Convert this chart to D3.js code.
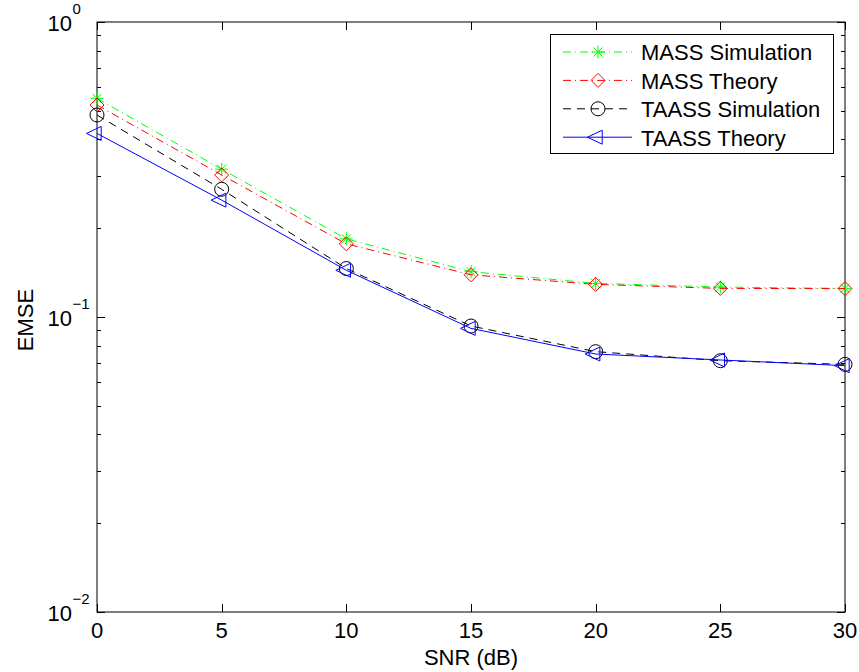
<!DOCTYPE html>
<html>
<head>
<meta charset="utf-8">
<script src="https://cdn.jsdelivr.net/npm/d3@7"></script>
<style>
  body { margin: 0; background: #fff; }
  text { font-family: "Liberation Sans", Arial, sans-serif; }
</style>
</head>
<body>
<div id="chart"></div>
<script>
// 数据
const snr = [0, 5, 10, 15, 20, 25, 30];
const massSim = [0.551, 0.317, 0.184, 0.1424, 0.130, 0.1263, 0.125];
const massTheory = [0.523, 0.303, 0.177, 0.139, 0.129, 0.125, 0.1248];
const taassSim = [0.484, 0.271, 0.146, 0.0932, 0.0763, 0.0711, 0.0691];
const taassTheory = [0.419, 0.249, 0.144, 0.0915, 0.0749, 0.0715, 0.0684];
const seriesNames = ['MASS Simulation', 'MASS Theory', 'TAASS Simulation', 'TAASS Theory'];
const xTicks = [0, 5, 10, 15, 20, 25, 30];
const yDecades = [-2, -1, 0];

const W = 859, H = 672;
const pLeft = 97, pRight = 845, pTop = 22, pBottom = 612;
const FS = 22;

const svg = d3.select('#chart').append('svg').attr('width', W).attr('height', H);

const x = d3.scaleLinear().domain([0, 30]).range([pLeft, pRight]);
const y = d3.scaleLog().domain([0.01, 1]).range([pBottom, pTop]);

const styles = [
  { color: '#00ff00', dash: '8,4,1,4', marker: 'star' },
  { color: '#ff0000', dash: '8,4,1,4', marker: 'diamond' },
  { color: '#000000', dash: '8,6', marker: 'circle' },
  { color: '#0000ff', dash: null, marker: 'triangle' },
];
const allSeries = [massSim, massTheory, taassSim, taassTheory];

// 坐标轴框
const axisG = svg.append('g');
axisG.append('rect')
  .attr('x', pLeft).attr('y', pTop)
  .attr('width', pRight - pLeft).attr('height', pBottom - pTop)
  .attr('fill', 'none').attr('stroke', '#000').attr('stroke-width', 1);

// x 刻度
xTicks.forEach((t) => {
  const px = Math.round(x(t)) + 0.5;
  axisG.append('line').attr('x1', px).attr('x2', px).attr('y1', pBottom).attr('y2', pBottom - 8).attr('stroke', '#000');
  axisG.append('line').attr('x1', px).attr('x2', px).attr('y1', pTop).attr('y2', pTop + 8).attr('stroke', '#000');
  axisG.append('text').attr('x', x(t)).attr('y', pBottom + 26)
    .attr('text-anchor', 'middle').attr('font-size', FS).text(t);
});

// y 刻度 (对数)
yDecades.forEach((d) => {
  const py = Math.round(y(Math.pow(10, d))) + 0.5;
  axisG.append('line').attr('x1', pLeft).attr('x2', pLeft + 8).attr('y1', py).attr('y2', py).attr('stroke', '#000');
  axisG.append('line').attr('x1', pRight).attr('x2', pRight - 8).attr('y1', py).attr('y2', py).attr('stroke', '#000');
  axisG.append('text').attr('x', 72).attr('y', py + 8)
    .attr('text-anchor', 'end').attr('font-size', FS).text('10');
  axisG.append('text').attr('x', 72.5).attr('y', py - 9)
    .attr('text-anchor', 'start').attr('font-size', 15).text(String(d).replace('-', '\u2212'));
});
for (let d = -2; d < 0; d++) {
  for (let m = 2; m <= 9; m++) {
    const py = Math.round(y(m * Math.pow(10, d))) + 0.5;
    axisG.append('line').attr('x1', pLeft).attr('x2', pLeft + 4).attr('y1', py).attr('y2', py).attr('stroke', '#000');
    axisG.append('line').attr('x1', pRight).attr('x2', pRight - 4).attr('y1', py).attr('y2', py).attr('stroke', '#000');
  }
}

axisG.append('text').attr('x', (pLeft + pRight) / 2).attr('y', 665)
  .attr('text-anchor', 'middle').attr('font-size', FS).text('SNR (dB)');
axisG.append('text').attr('transform', `translate(33,${(pTop + pBottom) / 2 + 3}) rotate(-90)`)
  .attr('text-anchor', 'middle').attr('font-size', FS).text('EMSE');

// 标记
const drawMarker = (g, type, cx, cy, color) => {
  if (type === 'star') {
    const r = 6.5;
    [[r, 0], [0, r], [r * 0.7, r * 0.7], [r * 0.7, -r * 0.7]].forEach(([dx, dy]) => {
      g.append('line').attr('x1', cx - dx).attr('x2', cx + dx).attr('y1', cy - dy).attr('y2', cy + dy)
        .attr('stroke', color).attr('stroke-width', 1);
    });
  } else if (type === 'diamond') {
    const r = 7;
    g.append('path').attr('d', `M${cx},${cy - r}L${cx + r},${cy}L${cx},${cy + r}L${cx - r},${cy}Z`)
      .attr('fill', 'none').attr('stroke', color).attr('stroke-width', 1);
  } else if (type === 'circle') {
    g.append('circle').attr('cx', cx).attr('cy', cy).attr('r', 7)
      .attr('fill', 'none').attr('stroke', color).attr('stroke-width', 1);
  } else if (type === 'triangle') {
    const r = 7;
    g.append('path').attr('d', `M${cx - r * 1.5},${cy}L${cx + r * 0.6},${cy - r}L${cx + r * 0.6},${cy + r}Z`)
      .attr('fill', 'none').attr('stroke', color).attr('stroke-width', 1);
  }
};

const line = d3.line().x((d, i) => x(snr[i])).y((d) => y(d));

const plotG = svg.append('g');
allSeries.forEach((vals, k) => {
  const s = styles[k];
  plotG.append('path').datum(vals).attr('d', line)
    .attr('fill', 'none').attr('stroke', s.color).attr('stroke-width', 1)
    .attr('stroke-dasharray', s.dash);
  vals.forEach((v, i) => drawMarker(plotG, s.marker, x(snr[i]), y(v), s.color));
});

// 图例
const lg = svg.append('g');
lg.append('rect').attr('x', 550.5).attr('y', 34.5).attr('width', 283).attr('height', 119)
  .attr('fill', '#fff').attr('stroke', '#000').attr('stroke-width', 1);
seriesNames.forEach((name, k) => {
  const s = styles[k];
  const ry = 52 + k * 28.4;
  lg.append('line').attr('x1', 563).attr('x2', 632).attr('y1', ry).attr('y2', ry)
    .attr('stroke', s.color).attr('stroke-width', 1).attr('stroke-dasharray', s.dash);
  drawMarker(lg, s.marker, 598, ry, s.color);
  lg.append('text').attr('x', 641).attr('y', ry + 8.3).attr('font-size', FS).text(name);
});
</script>
</body>
</html>
